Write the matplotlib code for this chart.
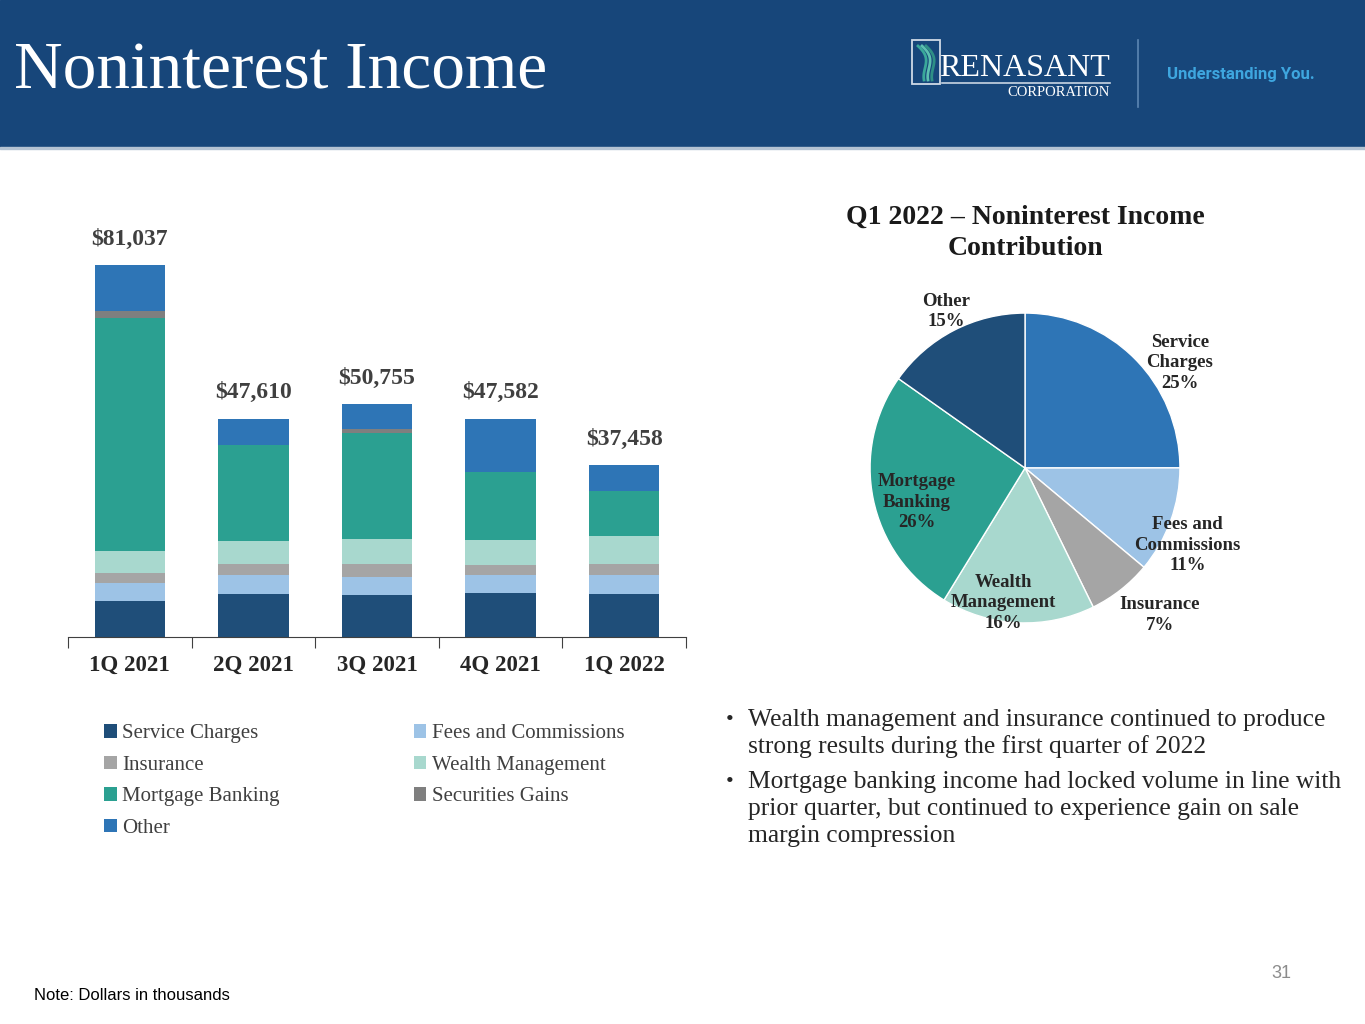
import matplotlib
matplotlib.use('Agg')
import matplotlib.pyplot as plt
from matplotlib.patches import Rectangle
from matplotlib.lines import Line2D
import numpy as np

## Data (dollars in thousands)
quarters = ['1Q 2021', '2Q 2021', '3Q 2021', '4Q 2021', '1Q 2022']
service_charges = [7780, 9340, 9160, 9532, 9360]
fees_commissions = [3990, 4160, 3920, 3920, 4150]
insurance = [2180, 2340, 2770, 2330, 2500]
wealth_mgmt = [4800, 5110, 5450, 5360, 6000]
mortgage_banking = [50800, 20990, 23205, 14740, 9750]
securities_gains = [1460, 0, 800, 0, 0]
other = [10027, 5670, 5450, 11700, 5698]

series_names = ['Service Charges', 'Fees and Commissions', 'Insurance',
                'Wealth Management', 'Mortgage Banking', 'Securities Gains', 'Other']
pie_names = ['Service\nCharges', 'Fees and\nCommissions', 'Insurance',
             'Wealth\nManagement', 'Mortgage\nBanking', 'Other']

bullets = [
    ['Wealth management and insurance continued to produce',
     'strong results during the first quarter of 2022'],
    ['Mortgage banking income had locked volume in line with',
     'prior quarter, but continued to experience gain on sale',
     'margin compression'],
]

## Styling
serif = 'Liberation Serif'
bar_colors = ['#1f4e79', '#9dc3e6', '#a5a5a5', '#a8d8ce', '#2ba091', '#7f7f7f', '#2e75b6']
pie_colors = ['#2e75b6', '#9dc3e6', '#a5a5a5', '#a8d8ce', '#2ba091', '#1f4e79']
header_blue = '#17467a'

W, H = 1365, 1024
fig = plt.figure(figsize=(W / 100, H / 100), dpi=100)

def px(x, y):
    # pixel (from top-left) -> figure fraction
    return x / W, 1 - y / H

# Header band
fig.patches.append(Rectangle((0, 1 - 147 / H), 1, 147 / H, transform=fig.transFigure,
                             color=header_blue, zorder=0))
fig.patches.append(Rectangle((0, 1 - 149 / H), 1, 2 / H, transform=fig.transFigure,
                             color='#b4c3d3', zorder=0))
fig.text(*px(14, 72), 'Noninterest Income', family=serif, fontsize=48.5, color='white',
         va='center', ha='left')

# Logo
fig.patches.append(Rectangle(px(912, 84), 28 / W, 44 / H, transform=fig.transFigure,
                             fill=False, ec='#d0dae6', lw=1.3))
t = np.linspace(0, 1, 30)
for k, c in enumerate(['#3aa89a', '#5cc0b0', '#2e8f86']):
    xs = 918 + 4 * k + 10 * np.sin(np.pi * t) * (1 - t) + 6 * t
    ys = 46 + 34 * t
    fig.add_artist(Line2D(xs / W, 1 - ys / H, color=c, lw=2))
fig.text(*px(1110, 68), 'RENASANT', family=serif, fontsize=23, color='white',
         ha='right', va='center')
fig.add_artist(Line2D([942 / W, 1110 / W], [1 - 83 / H, 1 - 83 / H], color='#c9d6e3', lw=1.2))
fig.text(*px(1110, 92), 'CORPORATION', family=serif, fontsize=10.5, color='white',
         ha='right', va='center')
fig.add_artist(Line2D([1138 / W, 1138 / W], [1 - 40 / H, 1 - 107 / H], color='#5c86b3', lw=1.2))
fig.text(*px(1167, 75), 'Understanding You.', family='Roboto', fontsize=12, weight='bold',
         color='#3ea6df', ha='left', va='center')

# Stacked bar chart
ax = fig.add_axes([68 / W, 1 - 637 / H, 618 / W, 413 / H])
stack = [service_charges, fees_commissions, insurance, wealth_mgmt,
         mortgage_banking, securities_gains, other]
x = np.arange(len(quarters))
bottom = np.zeros(len(quarters))
handles = []
for vals, col, name in zip(stack, bar_colors, series_names):
    b = ax.bar(x, vals, 0.57, bottom=bottom, color=col, label=name, linewidth=0)
    handles.append(b)
    bottom += np.array(vals)

for xi, tot in zip(x, bottom):
    ax.annotate('${:,.0f}'.format(tot), (xi, tot), xytext=(0, 11), textcoords='offset points',
                ha='center', va='bottom', family=serif, fontsize=17, weight='bold',
                color='#404040')

ax.set_xlim(-0.5, len(quarters) - 0.5)
ax.set_ylim(0, 90000)
for s in ['top', 'right', 'left']:
    ax.spines[s].set_visible(False)
ax.spines['bottom'].set_color('#404040')
ax.set_yticks([])
ax.set_xticks(np.arange(-0.5, len(quarters)))
ax.set_xticklabels([])
ax.tick_params(axis='x', direction='out', length=8, color='#404040')
for xi, q in zip(x, quarters):
    ax.text(xi, -0.068, q, transform=ax.get_xaxis_transform(), ha='center', va='center',
            family=serif, fontsize=16.5, weight='bold', color='#262626')

order = [0, 2, 4, 6, 1, 3, 5]
leg = fig.legend([handles[i] for i in order], [series_names[i] for i in order],
                 loc='upper left', bbox_to_anchor=px(96, 716), ncol=2, frameon=False,
                 prop={'family': serif, 'size': 15}, handlelength=0.6, handleheight=0.6,
                 handletextpad=0.25, labelspacing=0.6, columnspacing=6.45, borderaxespad=0)
for t in leg.get_texts():
    t.set_color('#404040')

# Pie chart
pie_vals = [service_charges[-1], fees_commissions[-1], insurance[-1],
            wealth_mgmt[-1], mortgage_banking[-1], other[-1]]
pax = fig.add_axes([860 / W, 1 - 633 / H, 330 / W, 330 / H])
wedges, _ = pax.pie(pie_vals, colors=pie_colors, startangle=90, counterclock=False,
                    wedgeprops=dict(edgecolor='white', linewidth=1))
pax.set_xlim(-1.065, 1.065)
pax.set_ylim(-1.065, 1.065)
pax.set_aspect('equal')

pct = np.array(pie_vals) / np.sum(pie_vals) * 100
label_pos = [(1.00, 0.68), (1.05, -0.50), (0.87, -0.95), (-0.14, -0.87),
             (-0.70, -0.22), (-0.51, 1.01)]
for name, p, (lx, ly) in zip(pie_names, pct, label_pos):
    pax.text(lx, ly, '{}\n{:.0f}%'.format(name, p), ha='center', va='center',
             family=serif, fontsize=13.5, weight='bold', color='#262626', linespacing=1.27)

fig.text(*px(1025, 233), 'Q1 2022 \u2013 Noninterest Income\nContribution', ha='center',
         va='center', family=serif, fontsize=20, weight='bold', color='#1a1a1a',
         linespacing=1.35)

# Bullets
by = 720
for lines in bullets:
    fig.text(*px(726, by), '\u2022', family=serif, fontsize=16, color='#262626',
             ha='left', va='center')
    for ln in lines:
        fig.text(*px(748, by), ln, family=serif, fontsize=18.4, color='#262626',
                 ha='left', va='center')
        by += 27
    by += 8

fig.text(*px(34, 995), 'Note: Dollars in thousands', family='Liberation Sans', fontsize=12,
         color='black', ha='left', va='center')
fig.text(*px(1291, 974), '31', family='Liberation Sans', fontsize=13, color='#8c8c8c',
         ha='right', va='center')

fig.savefig('out.png', dpi=100)
